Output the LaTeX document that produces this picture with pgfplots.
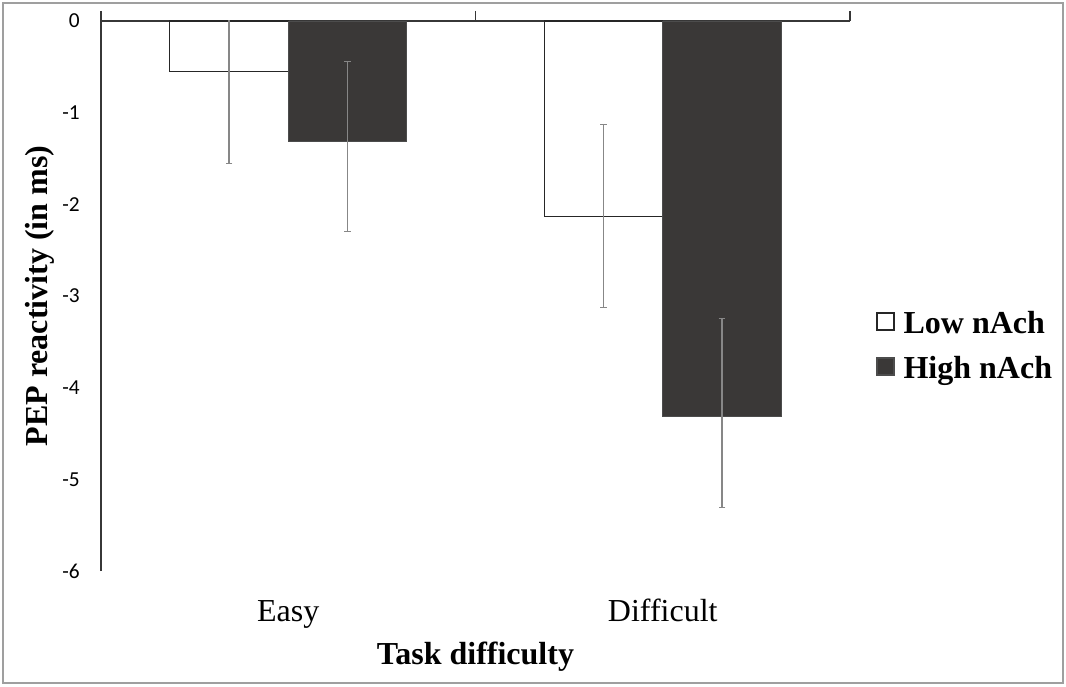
\documentclass[border=0pt]{standalone}
\usepackage{pgfplots}
\pgfplotsset{compat=1.18}
\usepackage{fontspec}
\setmainfont{Liberation Serif}
\newfontfamily\carlito{Carlito}
\definecolor{barDark}{RGB}{58,56,55}
\definecolor{axisGray}{RGB}{55,55,55}
\definecolor{errGray}{RGB}{135,135,135}
\begin{document}
\begin{tikzpicture}[x=1pt,y=1pt]
\useasboundingbox (0,0) rectangle (799.5,514.5);
\draw[gray!75, line width=1.2pt] (2.25,2.25) rectangle (797.25,512.25);
\begin{axis}[
  at={(75.75pt,86.25pt)}, anchor=south west,
  scale only axis, width=561.75pt, height=412.5pt,
  xmin=-0.5, xmax=1.5, ymin=-6, ymax=0,
  clip mode=individual,
  axis x line*=top, axis y line*=left,
  axis line style={axisGray, line width=1.1pt, -},
  xtick={-0.5,0.5,1.5}, xticklabels={},
  x tick style={axisGray, line width=1.1pt},
  major tick length=7.5pt, tick align=inside,
  ytick={-6,-5,-4,-3,-2,-1,0}, yticklabels={-6,-5,-4,-3,-2,-1,0},
  y tick style={draw=none},
  yticklabel style={font=\carlito\fontsize{16}{18}\selectfont, anchor=east, inner sep=0pt, xshift=-15.75pt},
  ylabel={PEP reactivity (in ms)},
  ylabel style={at={(axis description cs:-0.0814,0.5)}, anchor=center, font=\bfseries\fontsize{24}{28}\selectfont},
  xlabel={Task difficulty},
  xlabel style={at={(axis description cs:0.5,0)}, anchor=base, yshift=-69.75pt, font=\bfseries\fontsize{24}{28}\selectfont},
  ybar=0pt, bar width=88.9pt,
  legend style={at={(rel axis cs:1.0347,0.4045)}, anchor=west, draw=none, fill=none,
    font=\bfseries\fontsize{24}{28}\selectfont, inner sep=0pt,
    nodes={inner sep=0pt, text height=16pt, text depth=5pt},
    row sep=12.75pt, column sep=6.75pt},
  legend cell align=left,
  legend image code/.code={\draw[#1, line width=1pt] (0pt,-3pt) rectangle (12.75pt,9.75pt);},
]
\addplot[fill=white, draw=black!85, line width=1pt,
  error bars/y dir=both, error bars/y explicit,
  error bars/error bar style={errGray, line width=0.8pt},
  error bars/error mark options={errGray, rotate=90, mark size=2.5pt, line width=0.8pt}]
  coordinates {(0,-0.55) +- (0,1.0) (1,-2.13) +- (0,1.0)};
\addplot[fill=barDark, draw=gray!60!black, line width=0.6pt,
  error bars/y dir=both, error bars/y explicit,
  error bars/error bar style={errGray, line width=0.8pt},
  error bars/error mark options={errGray, rotate=90, mark size=2.5pt, line width=0.8pt}]
  coordinates {(0,-1.31) += (0,0.87) -= (0,0.99) (1,-4.31) += (0,1.06) -= (0,1.0)};
\legend{Low nAch, High nAch}
\node[anchor=base, font=\fontsize{24}{28}\selectfont, yshift=-38pt] at (axis cs:0,-6) {Easy};
\node[anchor=base, font=\fontsize{24}{28}\selectfont, yshift=-38pt] at (axis cs:1,-6) {Difficult};
\end{axis}
\end{tikzpicture}
\end{document}
